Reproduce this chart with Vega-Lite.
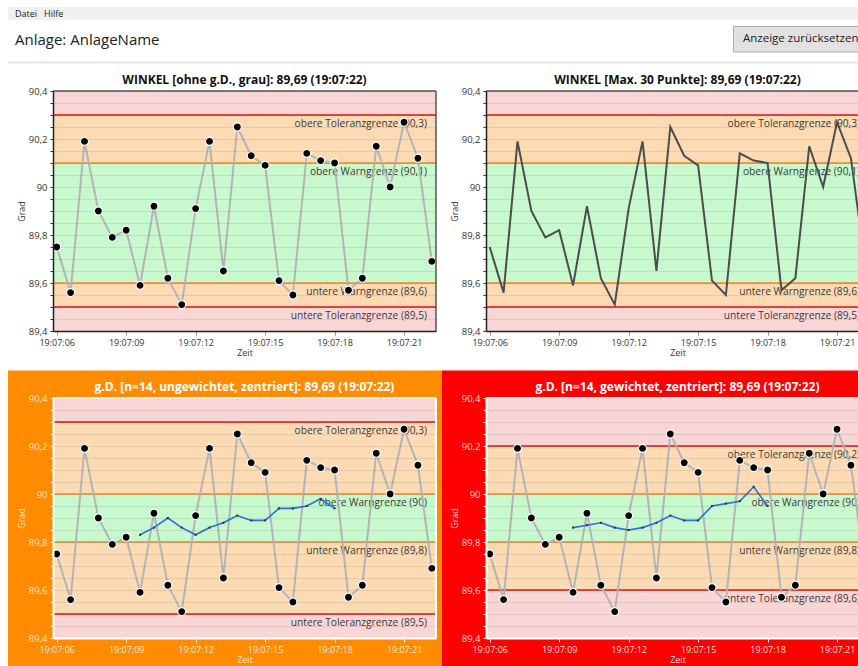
{
  "$schema": "https://vega.github.io/schema/vega-lite/v6.json",
  "background": "white",
  "padding": {"left": 7, "top": 7, "right": 0, "bottom": 0},
  "config": {"font": "Open Sans", "view": {"stroke": null}, "locale": {"number": {"decimal": ",", "thousands": ".", "grouping": [3], "currency": ["", " €"]}}},
  "datasets": {
    "werte": [
      {"zeit": "2024-05-17T19:07:06.000", "wert": 89.75},
      {"zeit": "2024-05-17T19:07:06.600", "wert": 89.56},
      {"zeit": "2024-05-17T19:07:07.200", "wert": 90.19},
      {"zeit": "2024-05-17T19:07:07.800", "wert": 89.90},
      {"zeit": "2024-05-17T19:07:08.400", "wert": 89.79},
      {"zeit": "2024-05-17T19:07:09.000", "wert": 89.82},
      {"zeit": "2024-05-17T19:07:09.600", "wert": 89.59},
      {"zeit": "2024-05-17T19:07:10.200", "wert": 89.92},
      {"zeit": "2024-05-17T19:07:10.800", "wert": 89.62},
      {"zeit": "2024-05-17T19:07:11.400", "wert": 89.51},
      {"zeit": "2024-05-17T19:07:12.000", "wert": 89.91},
      {"zeit": "2024-05-17T19:07:12.600", "wert": 90.19},
      {"zeit": "2024-05-17T19:07:13.200", "wert": 89.65},
      {"zeit": "2024-05-17T19:07:13.800", "wert": 90.25},
      {"zeit": "2024-05-17T19:07:14.400", "wert": 90.13},
      {"zeit": "2024-05-17T19:07:15.000", "wert": 90.09},
      {"zeit": "2024-05-17T19:07:15.600", "wert": 89.61},
      {"zeit": "2024-05-17T19:07:16.200", "wert": 89.55},
      {"zeit": "2024-05-17T19:07:16.800", "wert": 90.14},
      {"zeit": "2024-05-17T19:07:17.400", "wert": 90.11},
      {"zeit": "2024-05-17T19:07:18.000", "wert": 90.10},
      {"zeit": "2024-05-17T19:07:18.600", "wert": 89.57},
      {"zeit": "2024-05-17T19:07:19.200", "wert": 89.62},
      {"zeit": "2024-05-17T19:07:19.800", "wert": 90.17},
      {"zeit": "2024-05-17T19:07:20.400", "wert": 90.00},
      {"zeit": "2024-05-17T19:07:21.000", "wert": 90.27},
      {"zeit": "2024-05-17T19:07:21.600", "wert": 90.12},
      {"zeit": "2024-05-17T19:07:22.200", "wert": 89.69}
    ],
    "gd": [
      {"art": "ungewichtet", "zeit": "2024-05-17T19:07:09.600", "wert": 89.83},
      {"art": "ungewichtet", "zeit": "2024-05-17T19:07:10.200", "wert": 89.86},
      {"art": "ungewichtet", "zeit": "2024-05-17T19:07:10.800", "wert": 89.90},
      {"art": "ungewichtet", "zeit": "2024-05-17T19:07:11.400", "wert": 89.86},
      {"art": "ungewichtet", "zeit": "2024-05-17T19:07:12.000", "wert": 89.83},
      {"art": "ungewichtet", "zeit": "2024-05-17T19:07:12.600", "wert": 89.86},
      {"art": "ungewichtet", "zeit": "2024-05-17T19:07:13.200", "wert": 89.88},
      {"art": "ungewichtet", "zeit": "2024-05-17T19:07:13.800", "wert": 89.91},
      {"art": "ungewichtet", "zeit": "2024-05-17T19:07:14.400", "wert": 89.89},
      {"art": "ungewichtet", "zeit": "2024-05-17T19:07:15.000", "wert": 89.89},
      {"art": "ungewichtet", "zeit": "2024-05-17T19:07:15.600", "wert": 89.94},
      {"art": "ungewichtet", "zeit": "2024-05-17T19:07:16.200", "wert": 89.94},
      {"art": "ungewichtet", "zeit": "2024-05-17T19:07:16.800", "wert": 89.95},
      {"art": "ungewichtet", "zeit": "2024-05-17T19:07:17.400", "wert": 89.98},
      {"art": "ungewichtet", "zeit": "2024-05-17T19:07:18.000", "wert": 89.94},
      {"art": "gewichtet", "zeit": "2024-05-17T19:07:09.600", "wert": 89.86},
      {"art": "gewichtet", "zeit": "2024-05-17T19:07:10.200", "wert": 89.87},
      {"art": "gewichtet", "zeit": "2024-05-17T19:07:10.800", "wert": 89.88},
      {"art": "gewichtet", "zeit": "2024-05-17T19:07:11.400", "wert": 89.86},
      {"art": "gewichtet", "zeit": "2024-05-17T19:07:12.000", "wert": 89.85},
      {"art": "gewichtet", "zeit": "2024-05-17T19:07:12.600", "wert": 89.86},
      {"art": "gewichtet", "zeit": "2024-05-17T19:07:13.200", "wert": 89.88},
      {"art": "gewichtet", "zeit": "2024-05-17T19:07:13.800", "wert": 89.91},
      {"art": "gewichtet", "zeit": "2024-05-17T19:07:14.400", "wert": 89.89},
      {"art": "gewichtet", "zeit": "2024-05-17T19:07:15.000", "wert": 89.89},
      {"art": "gewichtet", "zeit": "2024-05-17T19:07:15.600", "wert": 89.95},
      {"art": "gewichtet", "zeit": "2024-05-17T19:07:16.200", "wert": 89.96},
      {"art": "gewichtet", "zeit": "2024-05-17T19:07:16.800", "wert": 89.97},
      {"art": "gewichtet", "zeit": "2024-05-17T19:07:17.400", "wert": 90.03},
      {"art": "gewichtet", "zeit": "2024-05-17T19:07:18.000", "wert": 89.95}
    ],
    "zonen": [
      {"panel": "A", "von": 90.3, "bis": 90.4, "zone": "Toleranz"},
      {"panel": "A", "von": 90.1, "bis": 90.3, "zone": "Warnung"},
      {"panel": "A", "von": 89.6, "bis": 90.1, "zone": "OK"},
      {"panel": "A", "von": 89.5, "bis": 89.6, "zone": "Warnung"},
      {"panel": "A", "von": 89.4, "bis": 89.5, "zone": "Toleranz"},
      {"panel": "C", "von": 90.3, "bis": 90.4, "zone": "Toleranz"},
      {"panel": "C", "von": 90.0, "bis": 90.3, "zone": "Warnung"},
      {"panel": "C", "von": 89.8, "bis": 90.0, "zone": "OK"},
      {"panel": "C", "von": 89.5, "bis": 89.8, "zone": "Warnung"},
      {"panel": "C", "von": 89.4, "bis": 89.5, "zone": "Toleranz"},
      {"panel": "D", "von": 90.2, "bis": 90.4, "zone": "Toleranz"},
      {"panel": "D", "von": 90.0, "bis": 90.2, "zone": "Warnung"},
      {"panel": "D", "von": 89.8, "bis": 90.0, "zone": "OK"},
      {"panel": "D", "von": 89.6, "bis": 89.8, "zone": "Warnung"},
      {"panel": "D", "von": 89.4, "bis": 89.6, "zone": "Toleranz"}
    ],
    "grenzen": [
      {"panel": "A", "wert": 90.3, "art": "Toleranzgrenze", "label": "obere Toleranzgrenze (90,3)"},
      {"panel": "A", "wert": 90.1, "art": "Warngrenze", "label": "obere Warngrenze (90,1)"},
      {"panel": "A", "wert": 89.6, "art": "Warngrenze", "label": "untere Warngrenze (89,6)"},
      {"panel": "A", "wert": 89.5, "art": "Toleranzgrenze", "label": "untere Toleranzgrenze (89,5)"},
      {"panel": "C", "wert": 90.3, "art": "Toleranzgrenze", "label": "obere Toleranzgrenze (90,3)"},
      {"panel": "C", "wert": 90.0, "art": "Warngrenze", "label": "obere Warngrenze (90)"},
      {"panel": "C", "wert": 89.8, "art": "Warngrenze", "label": "untere Warngrenze (89,8)"},
      {"panel": "C", "wert": 89.5, "art": "Toleranzgrenze", "label": "untere Toleranzgrenze (89,5)"},
      {"panel": "D", "wert": 90.2, "art": "Toleranzgrenze", "label": "obere Toleranzgrenze (90,2)"},
      {"panel": "D", "wert": 90.0, "art": "Warngrenze", "label": "obere Warngrenze (90)"},
      {"panel": "D", "wert": 89.8, "art": "Warngrenze", "label": "untere Warngrenze (89,8)"},
      {"panel": "D", "wert": 89.6, "art": "Toleranzgrenze", "label": "untere Toleranzgrenze (89,6)"}
    ]
  },
  "bounds": "flush",
  "columns": 2,
  "spacing": {"row": 67, "column": 50},
  "concat": [
    {
      "width": 383, "height": 240,
      "title": {"text": "WINKEL [ohne g.D., grau]: 89,69 (19:07:22)", "fontSize": 12, "fontWeight": "bold", "color": "#111", "offset": -80, "zindex": 1},
      "resolve": {"axis": {"x": "independent", "y": "independent"}},
      "layer": [
        {"data": {"values": [{}]}, "mark": {"type": "rect", "fill": "#f0f0f0"},
         "encoding": {
           "x": {"datum": {"year": 2024, "month": 5, "date": 17, "hours": 19, "minutes": 7, "seconds": 3, "milliseconds": 897}, "type": "temporal", "scale": {"domain": [{"year": 2024, "month": 5, "date": 17, "hours": 19, "minutes": 7, "seconds": 5, "milliseconds": 840}, {"year": 2024, "month": 5, "date": 17, "hours": 19, "minutes": 7, "seconds": 22, "milliseconds": 380}], "nice": false}, "axis": null},
           "x2": {"datum": {"year": 2024, "month": 5, "date": 17, "hours": 19, "minutes": 7, "seconds": 40, "milliseconds": 647}},
           "y": {"datum": 90.75, "type": "quantitative", "scale": {"domain": [89.4, 90.4], "nice": false, "zero": false}, "axis": null},
           "y2": {"datum": 90.6958}
         }},
        {"data": {"values": [{}]}, "mark": {"type": "text", "text": "Datei", "fontSize": 9, "align": "left", "baseline": "middle", "color": "#222"},
         "encoding": {
           "x": {"datum": {"year": 2024, "month": 5, "date": 17, "hours": 19, "minutes": 7, "seconds": 4, "milliseconds": 199}, "type": "temporal", "scale": {"domain": [{"year": 2024, "month": 5, "date": 17, "hours": 19, "minutes": 7, "seconds": 5, "milliseconds": 840}, {"year": 2024, "month": 5, "date": 17, "hours": 19, "minutes": 7, "seconds": 22, "milliseconds": 380}], "nice": false}, "axis": null},
           "y": {"datum": 90.7208, "type": "quantitative", "scale": {"domain": [89.4, 90.4], "nice": false, "zero": false}, "axis": null}
         }},
        {"data": {"values": [{}]}, "mark": {"type": "text", "text": "Hilfe", "fontSize": 9, "align": "left", "baseline": "middle", "color": "#222"},
         "encoding": {
           "x": {"datum": {"year": 2024, "month": 5, "date": 17, "hours": 19, "minutes": 7, "seconds": 5, "milliseconds": 451}, "type": "temporal", "scale": {"domain": [{"year": 2024, "month": 5, "date": 17, "hours": 19, "minutes": 7, "seconds": 5, "milliseconds": 840}, {"year": 2024, "month": 5, "date": 17, "hours": 19, "minutes": 7, "seconds": 22, "milliseconds": 380}], "nice": false}, "axis": null},
           "y": {"datum": 90.7208, "type": "quantitative", "scale": {"domain": [89.4, 90.4], "nice": false, "zero": false}, "axis": null}
         }},
        {"data": {"values": [{}]}, "mark": {"type": "text", "text": "Anlage: AnlageName", "fontSize": 15, "align": "left", "baseline": "middle", "color": "#222"},
         "encoding": {
           "x": {"datum": {"year": 2024, "month": 5, "date": 17, "hours": 19, "minutes": 7, "seconds": 4, "milliseconds": 199}, "type": "temporal", "scale": {"domain": [{"year": 2024, "month": 5, "date": 17, "hours": 19, "minutes": 7, "seconds": 5, "milliseconds": 840}, {"year": 2024, "month": 5, "date": 17, "hours": 19, "minutes": 7, "seconds": 22, "milliseconds": 380}], "nice": false}, "axis": null},
           "y": {"datum": 90.6125, "type": "quantitative", "scale": {"domain": [89.4, 90.4], "nice": false, "zero": false}, "axis": null}
         }},
        {"data": {"values": [{}]}, "mark": {"type": "rect", "fill": "#e1e1e1", "stroke": "#adadad", "strokeWidth": 1},
         "encoding": {
           "x": {"datum": {"year": 2024, "month": 5, "date": 17, "hours": 19, "minutes": 7, "seconds": 35, "milliseconds": 227}, "type": "temporal", "scale": {"domain": [{"year": 2024, "month": 5, "date": 17, "hours": 19, "minutes": 7, "seconds": 5, "milliseconds": 840}, {"year": 2024, "month": 5, "date": 17, "hours": 19, "minutes": 7, "seconds": 22, "milliseconds": 380}], "nice": false}, "axis": null},
           "x2": {"datum": {"year": 2024, "month": 5, "date": 17, "hours": 19, "minutes": 7, "seconds": 41, "milliseconds": 382}},
           "y": {"datum": 90.6688, "type": "quantitative", "scale": {"domain": [89.4, 90.4], "nice": false, "zero": false}, "axis": null},
           "y2": {"datum": 90.5625}
         }},
        {"data": {"values": [{}]}, "mark": {"type": "text", "text": "Anzeige zurücksetzen", "fontSize": 11.5, "align": "left", "baseline": "middle", "color": "#222"},
         "encoding": {
           "x": {"datum": {"year": 2024, "month": 5, "date": 17, "hours": 19, "minutes": 7, "seconds": 35, "milliseconds": 637}, "type": "temporal", "scale": {"domain": [{"year": 2024, "month": 5, "date": 17, "hours": 19, "minutes": 7, "seconds": 5, "milliseconds": 840}, {"year": 2024, "month": 5, "date": 17, "hours": 19, "minutes": 7, "seconds": 22, "milliseconds": 380}], "nice": false}, "axis": null},
           "y": {"datum": 90.6146, "type": "quantitative", "scale": {"domain": [89.4, 90.4], "nice": false, "zero": false}, "axis": null}
         }},
        {"data": {"values": [{}]}, "mark": {"type": "rule", "color": "#e5e5e5", "strokeWidth": 2},
         "encoding": {
           "x": {"datum": {"year": 2024, "month": 5, "date": 17, "hours": 19, "minutes": 7, "seconds": 3, "milliseconds": 897}, "type": "temporal", "scale": {"domain": [{"year": 2024, "month": 5, "date": 17, "hours": 19, "minutes": 7, "seconds": 5, "milliseconds": 840}, {"year": 2024, "month": 5, "date": 17, "hours": 19, "minutes": 7, "seconds": 22, "milliseconds": 380}], "nice": false}, "axis": null},
           "x2": {"datum": {"year": 2024, "month": 5, "date": 17, "hours": 19, "minutes": 7, "seconds": 40, "milliseconds": 647}},
           "y": {"datum": 90.5188, "type": "quantitative", "scale": {"domain": [89.4, 90.4], "nice": false, "zero": false}, "axis": null}
         }},
        {"data": {"name": "zonen"}, "transform": [{"filter": "datum.panel === 'A'"}], "mark": {"type": "rect"},
         "encoding": {
           "x": {"datum": {"year": 2024, "month": 5, "date": 17, "hours": 19, "minutes": 7, "seconds": 5, "milliseconds": 840}, "type": "temporal", "scale": {"domain": [{"year": 2024, "month": 5, "date": 17, "hours": 19, "minutes": 7, "seconds": 5, "milliseconds": 840}, {"year": 2024, "month": 5, "date": 17, "hours": 19, "minutes": 7, "seconds": 22, "milliseconds": 380}], "nice": false}, "axis": null},
           "x2": {"datum": {"year": 2024, "month": 5, "date": 17, "hours": 19, "minutes": 7, "seconds": 22, "milliseconds": 380}},
           "y": {"field": "von", "type": "quantitative", "scale": {"domain": [89.4, 90.4], "nice": false, "zero": false}, "axis": null},
           "y2": {"field": "bis"},
           "fill": {"field": "zone", "type": "nominal", "scale": {"domain": ["Toleranz", "Warnung", "OK"], "range": ["#f9d6d6", "#fcdbb4", "#c8f8cd"]}, "legend": null}
         }},
        {"data": {"name": "grenzen"}, "transform": [{"filter": "datum.panel === 'A'"}], "mark": {"type": "rule", "strokeWidth": 2},
         "encoding": {
           "y": {"field": "wert", "type": "quantitative", "scale": {"domain": [89.4, 90.4], "nice": false, "zero": false}, "axis": null},
           "stroke": {"field": "art", "type": "nominal", "scale": {"domain": ["Toleranzgrenze", "Warngrenze"], "range": ["#e8463e", "#f0a04a"]}, "legend": null}
         }},
        {"data": {"name": "grenzen"}, "transform": [{"filter": "datum.panel === 'A'"}], "mark": {"type": "text", "align": "right", "baseline": "middle", "dx": -9, "dy": 9, "fontSize": 10.2, "color": "#3a3a3a"},
         "encoding": {
           "x": {"datum": {"year": 2024, "month": 5, "date": 17, "hours": 19, "minutes": 7, "seconds": 22, "milliseconds": 380}, "type": "temporal", "scale": {"domain": [{"year": 2024, "month": 5, "date": 17, "hours": 19, "minutes": 7, "seconds": 5, "milliseconds": 840}, {"year": 2024, "month": 5, "date": 17, "hours": 19, "minutes": 7, "seconds": 22, "milliseconds": 380}], "nice": false}, "axis": null},
           "y": {"field": "wert", "type": "quantitative", "scale": {"domain": [89.4, 90.4], "nice": false, "zero": false}, "axis": null},
           "text": {"field": "label"}
         }},
        {"data": {"name": "werte"}, "mark": {"type": "line", "color": "#b5b5b5", "strokeWidth": 2},
         "encoding": {
           "x": {"field": "zeit", "type": "temporal", "scale": {"domain": [{"year": 2024, "month": 5, "date": 17, "hours": 19, "minutes": 7, "seconds": 5, "milliseconds": 840}, {"year": 2024, "month": 5, "date": 17, "hours": 19, "minutes": 7, "seconds": 22, "milliseconds": 380}], "nice": false},
                 "axis": {"orient": "bottom", "title": "Zeit", "format": "%H:%M:%S", "values": [{"year": 2024, "month": 5, "date": 17, "hours": 19, "minutes": 7, "seconds": 6}, {"year": 2024, "month": 5, "date": 17, "hours": 19, "minutes": 7, "seconds": 9}, {"year": 2024, "month": 5, "date": 17, "hours": 19, "minutes": 7, "seconds": 12}, {"year": 2024, "month": 5, "date": 17, "hours": 19, "minutes": 7, "seconds": 15}, {"year": 2024, "month": 5, "date": 17, "hours": 19, "minutes": 7, "seconds": 18}, {"year": 2024, "month": 5, "date": 17, "hours": 19, "minutes": 7, "seconds": 21}], "labelFontSize": 9, "labelColor": "#333", "labelPadding": 3, "labelFlush": false, "labelOverlap": false, "tickColor": "#999", "tickSize": 4, "domainColor": "#222", "domainWidth": 1.5, "grid": false, "titleFontSize": 9, "titleFontWeight": "normal", "titleColor": "#333", "titlePadding": 1, "zindex": 1}},
           "y": {"field": "wert", "type": "quantitative", "scale": {"domain": [89.4, 90.4], "nice": false, "zero": false},
                 "axis": {"orient": "left", "title": "Grad", "values": [89.4, 89.45, 89.5, 89.55, 89.6, 89.65, 89.7, 89.75, 89.8, 89.85, 89.9, 89.95, 90, 90.05, 90.1, 90.15, 90.2, 90.25, 90.3, 90.35, 90.4], "format": ".3~r",
                          "labelExpr": "abs(datum.value*5 - round(datum.value*5)) < 0.01 ? datum.label : ''",
                          "labelFontSize": 9.5, "labelColor": "#333", "labelPadding": 3, "labelOverlap": false, "labelBound": false,
                          "tickColor": "#333", "tickSize": 3,
                          "domainColor": "#222", "domainWidth": 1.5, "grid": true, "gridColor": "#000", "gridOpacity": 0.08,
                          "titleFontSize": 9, "titleFontWeight": "normal", "titleColor": "#333", "titlePadding": 2, "zindex": 1}}
         }},
        {"data": {"name": "werte"}, "mark": {"type": "circle", "fill": "#000", "stroke": "white", "strokeWidth": 1.2, "size": 65, "opacity": 1},
         "encoding": {
           "x": {"field": "zeit", "type": "temporal", "scale": {"domain": [{"year": 2024, "month": 5, "date": 17, "hours": 19, "minutes": 7, "seconds": 5, "milliseconds": 840}, {"year": 2024, "month": 5, "date": 17, "hours": 19, "minutes": 7, "seconds": 22, "milliseconds": 380}], "nice": false}, "axis": null},
           "y": {"field": "wert", "type": "quantitative", "scale": {"domain": [89.4, 90.4], "nice": false, "zero": false}, "axis": null}
         }},
        {"data": {"values": [{}]}, "mark": {"type": "rule", "color": "#555", "strokeWidth": 1.5},
         "encoding": {"y": {"datum": 90.4, "type": "quantitative", "scale": {"domain": [89.4, 90.4], "nice": false, "zero": false}, "axis": null}}},
        {"data": {"values": [{}]}, "mark": {"type": "rule", "color": "#555", "strokeWidth": 1.5},
         "encoding": {"x": {"datum": {"year": 2024, "month": 5, "date": 17, "hours": 19, "minutes": 7, "seconds": 22, "milliseconds": 380}, "type": "temporal", "scale": {"domain": [{"year": 2024, "month": 5, "date": 17, "hours": 19, "minutes": 7, "seconds": 5, "milliseconds": 840}, {"year": 2024, "month": 5, "date": 17, "hours": 19, "minutes": 7, "seconds": 22, "milliseconds": 380}], "nice": false}, "axis": null}}}
      ]
    },
    {
      "width": 383, "height": 240,
      "title": {"text": "WINKEL [Max. 30 Punkte]: 89,69 (19:07:22)", "fontSize": 12, "fontWeight": "bold", "color": "#111", "offset": -1, "zindex": 1},
      "resolve": {"axis": {"x": "independent", "y": "independent"}},
      "layer": [
        {"data": {"name": "zonen"}, "transform": [{"filter": "datum.panel === 'A'"}], "mark": {"type": "rect"},
         "encoding": {
           "x": {"datum": {"year": 2024, "month": 5, "date": 17, "hours": 19, "minutes": 7, "seconds": 5, "milliseconds": 840}, "type": "temporal", "scale": {"domain": [{"year": 2024, "month": 5, "date": 17, "hours": 19, "minutes": 7, "seconds": 5, "milliseconds": 840}, {"year": 2024, "month": 5, "date": 17, "hours": 19, "minutes": 7, "seconds": 22, "milliseconds": 380}], "nice": false}, "axis": null},
           "x2": {"datum": {"year": 2024, "month": 5, "date": 17, "hours": 19, "minutes": 7, "seconds": 22, "milliseconds": 380}},
           "y": {"field": "von", "type": "quantitative", "scale": {"domain": [89.4, 90.4], "nice": false, "zero": false}, "axis": null},
           "y2": {"field": "bis"},
           "fill": {"field": "zone", "type": "nominal", "scale": {"domain": ["Toleranz", "Warnung", "OK"], "range": ["#f9d6d6", "#fcdbb4", "#c8f8cd"]}, "legend": null}
         }},
        {"data": {"name": "grenzen"}, "transform": [{"filter": "datum.panel === 'A'"}], "mark": {"type": "rule", "strokeWidth": 2},
         "encoding": {
           "y": {"field": "wert", "type": "quantitative", "scale": {"domain": [89.4, 90.4], "nice": false, "zero": false}, "axis": null},
           "stroke": {"field": "art", "type": "nominal", "scale": {"domain": ["Toleranzgrenze", "Warngrenze"], "range": ["#e8463e", "#f0a04a"]}, "legend": null}
         }},
        {"data": {"name": "grenzen"}, "transform": [{"filter": "datum.panel === 'A'"}], "mark": {"type": "text", "align": "right", "baseline": "middle", "dx": -9, "dy": 9, "fontSize": 10.2, "color": "#3a3a3a"},
         "encoding": {
           "x": {"datum": {"year": 2024, "month": 5, "date": 17, "hours": 19, "minutes": 7, "seconds": 22, "milliseconds": 380}, "type": "temporal", "scale": {"domain": [{"year": 2024, "month": 5, "date": 17, "hours": 19, "minutes": 7, "seconds": 5, "milliseconds": 840}, {"year": 2024, "month": 5, "date": 17, "hours": 19, "minutes": 7, "seconds": 22, "milliseconds": 380}], "nice": false}, "axis": null},
           "y": {"field": "wert", "type": "quantitative", "scale": {"domain": [89.4, 90.4], "nice": false, "zero": false}, "axis": null},
           "text": {"field": "label"}
         }},
        {"data": {"name": "werte"}, "mark": {"type": "line", "color": "#4d4d4d", "strokeWidth": 2},
         "encoding": {
           "x": {"field": "zeit", "type": "temporal", "scale": {"domain": [{"year": 2024, "month": 5, "date": 17, "hours": 19, "minutes": 7, "seconds": 5, "milliseconds": 840}, {"year": 2024, "month": 5, "date": 17, "hours": 19, "minutes": 7, "seconds": 22, "milliseconds": 380}], "nice": false},
                 "axis": {"orient": "bottom", "title": "Zeit", "format": "%H:%M:%S", "values": [{"year": 2024, "month": 5, "date": 17, "hours": 19, "minutes": 7, "seconds": 6}, {"year": 2024, "month": 5, "date": 17, "hours": 19, "minutes": 7, "seconds": 9}, {"year": 2024, "month": 5, "date": 17, "hours": 19, "minutes": 7, "seconds": 12}, {"year": 2024, "month": 5, "date": 17, "hours": 19, "minutes": 7, "seconds": 15}, {"year": 2024, "month": 5, "date": 17, "hours": 19, "minutes": 7, "seconds": 18}, {"year": 2024, "month": 5, "date": 17, "hours": 19, "minutes": 7, "seconds": 21}], "labelFontSize": 9, "labelColor": "#333", "labelPadding": 3, "labelFlush": false, "labelOverlap": false, "tickColor": "#999", "tickSize": 4, "domainColor": "#222", "domainWidth": 1.5, "grid": false, "titleFontSize": 9, "titleFontWeight": "normal", "titleColor": "#333", "titlePadding": 1, "zindex": 1}},
           "y": {"field": "wert", "type": "quantitative", "scale": {"domain": [89.4, 90.4], "nice": false, "zero": false},
                 "axis": {"orient": "left", "title": "Grad", "values": [89.4, 89.45, 89.5, 89.55, 89.6, 89.65, 89.7, 89.75, 89.8, 89.85, 89.9, 89.95, 90, 90.05, 90.1, 90.15, 90.2, 90.25, 90.3, 90.35, 90.4], "format": ".3~r",
                          "labelExpr": "abs(datum.value*5 - round(datum.value*5)) < 0.01 ? datum.label : ''",
                          "labelFontSize": 9.5, "labelColor": "#333", "labelPadding": 3, "labelOverlap": false, "labelBound": false,
                          "tickColor": "#333", "tickSize": 3,
                          "domainColor": "#222", "domainWidth": 1.5, "grid": true, "gridColor": "#000", "gridOpacity": 0.08,
                          "titleFontSize": 9, "titleFontWeight": "normal", "titleColor": "#333", "titlePadding": 2, "zindex": 1}}
         }},
        {"data": {"values": [{}]}, "mark": {"type": "rule", "color": "#555", "strokeWidth": 1.5},
         "encoding": {"y": {"datum": 90.4, "type": "quantitative", "scale": {"domain": [89.4, 90.4], "nice": false, "zero": false}, "axis": null}}}
      ]
    },
    {
      "width": 383, "height": 240,
      "title": {"text": "g.D. [n=14, ungewichtet, zentriert]: 89,69 (19:07:22)", "fontSize": 12, "fontWeight": "bold", "color": "white", "offset": -23.6, "zindex": 1},
      "resolve": {"axis": {"x": "independent", "y": "independent"}},
      "layer": [
        {"data": {"values": [{}]}, "mark": {"type": "rect", "fill": "#ff8c00"},
         "encoding": {
           "x": {"datum": {"year": 2024, "month": 5, "date": 17, "hours": 19, "minutes": 7, "seconds": 3, "milliseconds": 897}, "type": "temporal", "scale": {"domain": [{"year": 2024, "month": 5, "date": 17, "hours": 19, "minutes": 7, "seconds": 5, "milliseconds": 840}, {"year": 2024, "month": 5, "date": 17, "hours": 19, "minutes": 7, "seconds": 22, "milliseconds": 380}], "nice": false}, "axis": null},
           "x2": {"datum": {"year": 2024, "month": 5, "date": 17, "hours": 19, "minutes": 7, "seconds": 22, "milliseconds": 639}},
           "y": {"datum": 90.515, "type": "quantitative", "scale": {"domain": [89.4, 90.4], "nice": false, "zero": false}, "axis": null},
           "y2": {"datum": 89.283}
         }},
        {"data": {"name": "zonen"}, "transform": [{"filter": "datum.panel === 'C'"}], "mark": {"type": "rect"},
         "encoding": {
           "x": {"datum": {"year": 2024, "month": 5, "date": 17, "hours": 19, "minutes": 7, "seconds": 5, "milliseconds": 840}, "type": "temporal", "scale": {"domain": [{"year": 2024, "month": 5, "date": 17, "hours": 19, "minutes": 7, "seconds": 5, "milliseconds": 840}, {"year": 2024, "month": 5, "date": 17, "hours": 19, "minutes": 7, "seconds": 22, "milliseconds": 380}], "nice": false}, "axis": null},
           "x2": {"datum": {"year": 2024, "month": 5, "date": 17, "hours": 19, "minutes": 7, "seconds": 22, "milliseconds": 380}},
           "y": {"field": "von", "type": "quantitative", "scale": {"domain": [89.4, 90.4], "nice": false, "zero": false}, "axis": null},
           "y2": {"field": "bis"},
           "fill": {"field": "zone", "type": "nominal", "scale": {"domain": ["Toleranz", "Warnung", "OK"], "range": ["#f9d6d6", "#fcdbb4", "#c8f8cd"]}, "legend": null}
         }},
        {"data": {"name": "grenzen"}, "transform": [{"filter": "datum.panel === 'C'"}], "mark": {"type": "rule", "strokeWidth": 2},
         "encoding": {
           "y": {"field": "wert", "type": "quantitative", "scale": {"domain": [89.4, 90.4], "nice": false, "zero": false}, "axis": null},
           "stroke": {"field": "art", "type": "nominal", "scale": {"domain": ["Toleranzgrenze", "Warngrenze"], "range": ["#e8463e", "#f0a04a"]}, "legend": null}
         }},
        {"data": {"name": "grenzen"}, "transform": [{"filter": "datum.panel === 'C'"}], "mark": {"type": "text", "align": "right", "baseline": "middle", "dx": -9, "dy": 9, "fontSize": 10.2, "color": "#3a3a3a"},
         "encoding": {
           "x": {"datum": {"year": 2024, "month": 5, "date": 17, "hours": 19, "minutes": 7, "seconds": 22, "milliseconds": 380}, "type": "temporal", "scale": {"domain": [{"year": 2024, "month": 5, "date": 17, "hours": 19, "minutes": 7, "seconds": 5, "milliseconds": 840}, {"year": 2024, "month": 5, "date": 17, "hours": 19, "minutes": 7, "seconds": 22, "milliseconds": 380}], "nice": false}, "axis": null},
           "y": {"field": "wert", "type": "quantitative", "scale": {"domain": [89.4, 90.4], "nice": false, "zero": false}, "axis": null},
           "text": {"field": "label"}
         }},
        {"data": {"name": "werte"}, "mark": {"type": "line", "color": "#b5b5b5", "strokeWidth": 2},
         "encoding": {
           "x": {"field": "zeit", "type": "temporal", "scale": {"domain": [{"year": 2024, "month": 5, "date": 17, "hours": 19, "minutes": 7, "seconds": 5, "milliseconds": 840}, {"year": 2024, "month": 5, "date": 17, "hours": 19, "minutes": 7, "seconds": 22, "milliseconds": 380}], "nice": false},
                 "axis": {"orient": "bottom", "title": "Zeit", "format": "%H:%M:%S", "values": [{"year": 2024, "month": 5, "date": 17, "hours": 19, "minutes": 7, "seconds": 6}, {"year": 2024, "month": 5, "date": 17, "hours": 19, "minutes": 7, "seconds": 9}, {"year": 2024, "month": 5, "date": 17, "hours": 19, "minutes": 7, "seconds": 12}, {"year": 2024, "month": 5, "date": 17, "hours": 19, "minutes": 7, "seconds": 15}, {"year": 2024, "month": 5, "date": 17, "hours": 19, "minutes": 7, "seconds": 18}, {"year": 2024, "month": 5, "date": 17, "hours": 19, "minutes": 7, "seconds": 21}], "labelFontSize": 9, "labelColor": "#ffe6cc", "labelPadding": 3, "labelFlush": false, "labelOverlap": false, "tickColor": "#ffe6cc", "tickSize": 4, "domainColor": "white", "domainWidth": 2, "grid": false, "titleFontSize": 9, "titleFontWeight": "normal", "titleColor": "#ffe6cc", "titlePadding": 1, "zindex": 1}},
           "y": {"field": "wert", "type": "quantitative", "scale": {"domain": [89.4, 90.4], "nice": false, "zero": false},
                 "axis": {"orient": "left", "title": "Grad", "values": [89.4, 89.45, 89.5, 89.55, 89.6, 89.65, 89.7, 89.75, 89.8, 89.85, 89.9, 89.95, 90, 90.05, 90.1, 90.15, 90.2, 90.25, 90.3, 90.35, 90.4], "format": ".3~r",
                          "labelExpr": "abs(datum.value*5 - round(datum.value*5)) < 0.01 ? datum.label : ''",
                          "labelFontSize": 9.5, "labelColor": "#ffe6cc", "labelPadding": 3, "labelOverlap": false, "labelBound": false,
                          "tickColor": "#ffe6cc", "tickSize": 3,
                          "domainColor": "white", "domainWidth": 2, "grid": true, "gridColor": "#000", "gridOpacity": 0.08,
                          "titleFontSize": 9, "titleFontWeight": "normal", "titleColor": "#ffe6cc", "titlePadding": 2, "zindex": 1}}
         }},
        {"data": {"name": "werte"}, "mark": {"type": "circle", "fill": "#000", "stroke": "white", "strokeWidth": 1.2, "size": 65, "opacity": 1},
         "encoding": {
           "x": {"field": "zeit", "type": "temporal", "scale": {"domain": [{"year": 2024, "month": 5, "date": 17, "hours": 19, "minutes": 7, "seconds": 5, "milliseconds": 840}, {"year": 2024, "month": 5, "date": 17, "hours": 19, "minutes": 7, "seconds": 22, "milliseconds": 380}], "nice": false}, "axis": null},
           "y": {"field": "wert", "type": "quantitative", "scale": {"domain": [89.4, 90.4], "nice": false, "zero": false}, "axis": null}
         }},
        {"data": {"name": "gd"}, "transform": [{"filter": "datum.art === 'ungewichtet'"}], "mark": {"type": "line", "color": "#2b6fe0", "strokeWidth": 1.6},
         "encoding": {
           "x": {"field": "zeit", "type": "temporal", "scale": {"domain": [{"year": 2024, "month": 5, "date": 17, "hours": 19, "minutes": 7, "seconds": 5, "milliseconds": 840}, {"year": 2024, "month": 5, "date": 17, "hours": 19, "minutes": 7, "seconds": 22, "milliseconds": 380}], "nice": false}, "axis": null},
           "y": {"field": "wert", "type": "quantitative", "scale": {"domain": [89.4, 90.4], "nice": false, "zero": false}, "axis": null}
         }},
        {"data": {"name": "gd"}, "transform": [{"filter": "datum.art === 'ungewichtet'"}], "mark": {"type": "square", "color": "#333", "size": 4, "opacity": 1},
         "encoding": {
           "x": {"field": "zeit", "type": "temporal", "scale": {"domain": [{"year": 2024, "month": 5, "date": 17, "hours": 19, "minutes": 7, "seconds": 5, "milliseconds": 840}, {"year": 2024, "month": 5, "date": 17, "hours": 19, "minutes": 7, "seconds": 22, "milliseconds": 380}], "nice": false}, "axis": null},
           "y": {"field": "wert", "type": "quantitative", "scale": {"domain": [89.4, 90.4], "nice": false, "zero": false}, "axis": null}
         }},
        {"data": {"values": [{}]}, "mark": {"type": "rule", "color": "white", "strokeWidth": 2},
         "encoding": {"y": {"datum": 90.4, "type": "quantitative", "scale": {"domain": [89.4, 90.4], "nice": false, "zero": false}, "axis": null}}},
        {"data": {"values": [{}]}, "mark": {"type": "rule", "color": "white", "strokeWidth": 2},
         "encoding": {"x": {"datum": {"year": 2024, "month": 5, "date": 17, "hours": 19, "minutes": 7, "seconds": 22, "milliseconds": 380}, "type": "temporal", "scale": {"domain": [{"year": 2024, "month": 5, "date": 17, "hours": 19, "minutes": 7, "seconds": 5, "milliseconds": 840}, {"year": 2024, "month": 5, "date": 17, "hours": 19, "minutes": 7, "seconds": 22, "milliseconds": 380}], "nice": false}, "axis": null}}}
      ]
    },
    {
      "width": 383, "height": 240,
      "title": {"text": "g.D. [n=14, gewichtet, zentriert]: 89,69 (19:07:22)", "fontSize": 12, "fontWeight": "bold", "color": "white", "offset": -23.6, "zindex": 1},
      "resolve": {"axis": {"x": "independent", "y": "independent"}},
      "layer": [
        {"data": {"values": [{}]}, "mark": {"type": "rect", "fill": "#ff0000"},
         "encoding": {
           "x": {"datum": {"year": 2024, "month": 5, "date": 17, "hours": 19, "minutes": 7, "seconds": 3, "milliseconds": 940}, "type": "temporal", "scale": {"domain": [{"year": 2024, "month": 5, "date": 17, "hours": 19, "minutes": 7, "seconds": 5, "milliseconds": 840}, {"year": 2024, "month": 5, "date": 17, "hours": 19, "minutes": 7, "seconds": 22, "milliseconds": 380}], "nice": false}, "axis": null},
           "x2": {"datum": {"year": 2024, "month": 5, "date": 17, "hours": 19, "minutes": 7, "seconds": 22, "milliseconds": 800}},
           "y": {"datum": 90.515, "type": "quantitative", "scale": {"domain": [89.4, 90.4], "nice": false, "zero": false}, "axis": null},
           "y2": {"datum": 89.283}
         }},
        {"data": {"name": "zonen"}, "transform": [{"filter": "datum.panel === 'D'"}], "mark": {"type": "rect"},
         "encoding": {
           "x": {"datum": {"year": 2024, "month": 5, "date": 17, "hours": 19, "minutes": 7, "seconds": 5, "milliseconds": 840}, "type": "temporal", "scale": {"domain": [{"year": 2024, "month": 5, "date": 17, "hours": 19, "minutes": 7, "seconds": 5, "milliseconds": 840}, {"year": 2024, "month": 5, "date": 17, "hours": 19, "minutes": 7, "seconds": 22, "milliseconds": 380}], "nice": false}, "axis": null},
           "x2": {"datum": {"year": 2024, "month": 5, "date": 17, "hours": 19, "minutes": 7, "seconds": 22, "milliseconds": 380}},
           "y": {"field": "von", "type": "quantitative", "scale": {"domain": [89.4, 90.4], "nice": false, "zero": false}, "axis": null},
           "y2": {"field": "bis"},
           "fill": {"field": "zone", "type": "nominal", "scale": {"domain": ["Toleranz", "Warnung", "OK"], "range": ["#f9d6d6", "#fcdbb4", "#c8f8cd"]}, "legend": null}
         }},
        {"data": {"name": "grenzen"}, "transform": [{"filter": "datum.panel === 'D'"}], "mark": {"type": "rule", "strokeWidth": 2},
         "encoding": {
           "y": {"field": "wert", "type": "quantitative", "scale": {"domain": [89.4, 90.4], "nice": false, "zero": false}, "axis": null},
           "stroke": {"field": "art", "type": "nominal", "scale": {"domain": ["Toleranzgrenze", "Warngrenze"], "range": ["#e8463e", "#f0a04a"]}, "legend": null}
         }},
        {"data": {"name": "grenzen"}, "transform": [{"filter": "datum.panel === 'D'"}], "mark": {"type": "text", "align": "right", "baseline": "middle", "dx": -9, "dy": 9, "fontSize": 10.2, "color": "#3a3a3a"},
         "encoding": {
           "x": {"datum": {"year": 2024, "month": 5, "date": 17, "hours": 19, "minutes": 7, "seconds": 22, "milliseconds": 380}, "type": "temporal", "scale": {"domain": [{"year": 2024, "month": 5, "date": 17, "hours": 19, "minutes": 7, "seconds": 5, "milliseconds": 840}, {"year": 2024, "month": 5, "date": 17, "hours": 19, "minutes": 7, "seconds": 22, "milliseconds": 380}], "nice": false}, "axis": null},
           "y": {"field": "wert", "type": "quantitative", "scale": {"domain": [89.4, 90.4], "nice": false, "zero": false}, "axis": null},
           "text": {"field": "label"}
         }},
        {"data": {"name": "werte"}, "mark": {"type": "line", "color": "#b5b5b5", "strokeWidth": 2},
         "encoding": {
           "x": {"field": "zeit", "type": "temporal", "scale": {"domain": [{"year": 2024, "month": 5, "date": 17, "hours": 19, "minutes": 7, "seconds": 5, "milliseconds": 840}, {"year": 2024, "month": 5, "date": 17, "hours": 19, "minutes": 7, "seconds": 22, "milliseconds": 380}], "nice": false},
                 "axis": {"orient": "bottom", "title": "Zeit", "format": "%H:%M:%S", "values": [{"year": 2024, "month": 5, "date": 17, "hours": 19, "minutes": 7, "seconds": 6}, {"year": 2024, "month": 5, "date": 17, "hours": 19, "minutes": 7, "seconds": 9}, {"year": 2024, "month": 5, "date": 17, "hours": 19, "minutes": 7, "seconds": 12}, {"year": 2024, "month": 5, "date": 17, "hours": 19, "minutes": 7, "seconds": 15}, {"year": 2024, "month": 5, "date": 17, "hours": 19, "minutes": 7, "seconds": 18}, {"year": 2024, "month": 5, "date": 17, "hours": 19, "minutes": 7, "seconds": 21}], "labelFontSize": 9, "labelColor": "#ffdede", "labelPadding": 3, "labelFlush": false, "labelOverlap": false, "tickColor": "#ffdede", "tickSize": 4, "domainColor": "white", "domainWidth": 2, "grid": false, "titleFontSize": 9, "titleFontWeight": "normal", "titleColor": "#ffdede", "titlePadding": 1, "zindex": 1}},
           "y": {"field": "wert", "type": "quantitative", "scale": {"domain": [89.4, 90.4], "nice": false, "zero": false},
                 "axis": {"orient": "left", "title": "Grad", "values": [89.4, 89.45, 89.5, 89.55, 89.6, 89.65, 89.7, 89.75, 89.8, 89.85, 89.9, 89.95, 90, 90.05, 90.1, 90.15, 90.2, 90.25, 90.3, 90.35, 90.4], "format": ".3~r",
                          "labelExpr": "abs(datum.value*5 - round(datum.value*5)) < 0.01 ? datum.label : ''",
                          "labelFontSize": 9.5, "labelColor": "#ffdede", "labelPadding": 3, "labelOverlap": false, "labelBound": false,
                          "tickColor": "#ffdede", "tickSize": 3,
                          "domainColor": "white", "domainWidth": 2, "grid": true, "gridColor": "#000", "gridOpacity": 0.08,
                          "titleFontSize": 9, "titleFontWeight": "normal", "titleColor": "#ffdede", "titlePadding": 2, "zindex": 1}}
         }},
        {"data": {"name": "werte"}, "mark": {"type": "circle", "fill": "#000", "stroke": "white", "strokeWidth": 1.2, "size": 65, "opacity": 1},
         "encoding": {
           "x": {"field": "zeit", "type": "temporal", "scale": {"domain": [{"year": 2024, "month": 5, "date": 17, "hours": 19, "minutes": 7, "seconds": 5, "milliseconds": 840}, {"year": 2024, "month": 5, "date": 17, "hours": 19, "minutes": 7, "seconds": 22, "milliseconds": 380}], "nice": false}, "axis": null},
           "y": {"field": "wert", "type": "quantitative", "scale": {"domain": [89.4, 90.4], "nice": false, "zero": false}, "axis": null}
         }},
        {"data": {"name": "gd"}, "transform": [{"filter": "datum.art === 'gewichtet'"}], "mark": {"type": "line", "color": "#2b6fe0", "strokeWidth": 1.6},
         "encoding": {
           "x": {"field": "zeit", "type": "temporal", "scale": {"domain": [{"year": 2024, "month": 5, "date": 17, "hours": 19, "minutes": 7, "seconds": 5, "milliseconds": 840}, {"year": 2024, "month": 5, "date": 17, "hours": 19, "minutes": 7, "seconds": 22, "milliseconds": 380}], "nice": false}, "axis": null},
           "y": {"field": "wert", "type": "quantitative", "scale": {"domain": [89.4, 90.4], "nice": false, "zero": false}, "axis": null}
         }},
        {"data": {"name": "gd"}, "transform": [{"filter": "datum.art === 'gewichtet'"}], "mark": {"type": "square", "color": "#333", "size": 4, "opacity": 1},
         "encoding": {
           "x": {"field": "zeit", "type": "temporal", "scale": {"domain": [{"year": 2024, "month": 5, "date": 17, "hours": 19, "minutes": 7, "seconds": 5, "milliseconds": 840}, {"year": 2024, "month": 5, "date": 17, "hours": 19, "minutes": 7, "seconds": 22, "milliseconds": 380}], "nice": false}, "axis": null},
           "y": {"field": "wert", "type": "quantitative", "scale": {"domain": [89.4, 90.4], "nice": false, "zero": false}, "axis": null}
         }},
        {"data": {"values": [{}]}, "mark": {"type": "rule", "color": "white", "strokeWidth": 2},
         "encoding": {"y": {"datum": 90.4, "type": "quantitative", "scale": {"domain": [89.4, 90.4], "nice": false, "zero": false}, "axis": null}}}
      ]
    }
  ]
}
